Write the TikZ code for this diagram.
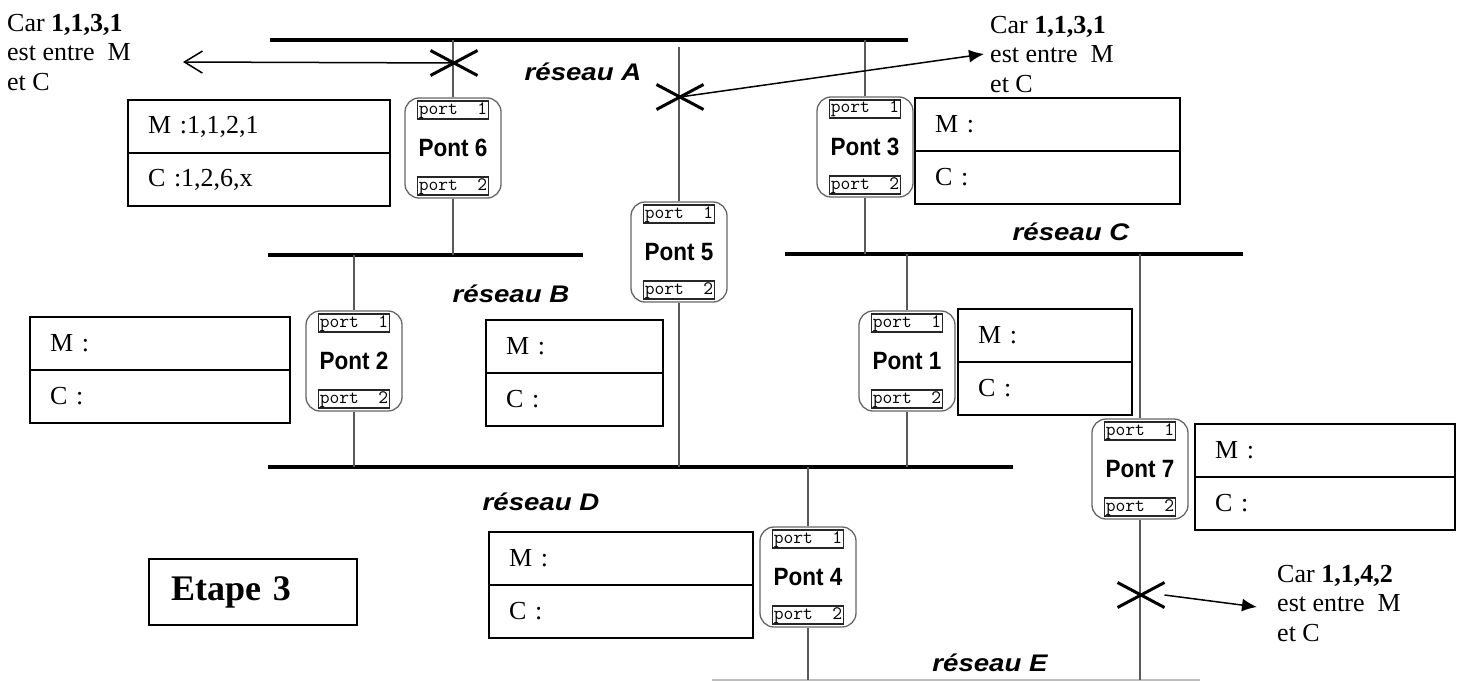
\documentclass[tikz,border=0pt]{standalone}
\usepackage{fontspec}
\setmainfont{Liberation Serif}
\newfontfamily\netfont[FakeStretch=1.15]{Liberation Sans}
\newfontfamily\pontfont[FakeStretch=0.9]{Liberation Sans}
\usetikzlibrary{positioning, arrows.meta, shapes.misc}

\tikzset{
  bus/.style={line width=4pt},
  drop/.style={line width=1.6pt, draw=black!65},
  pontbox/.style={draw=black!60, line width=1.3pt, rounded corners=14pt, fill=white, minimum width=96pt, minimum height=100pt},
  portbox/.style={draw=black!85, line width=1.3pt, fill=white, inner sep=1pt, text height=12pt, text depth=4pt, font=\ttfamily\fontsize{19}{19}\selectfont},
  pontname/.style={font=\pontfont\bfseries\fontsize{25}{25}\selectfont, inner sep=0pt},
  netname/.style={font=\netfont\bfseries\itshape\fontsize{24}{24}\selectfont, inner sep=0pt},
  rowbox/.style={draw, line width=1.4pt, anchor=north west, outer sep=0pt, text width=#1, inner xsep=20pt, inner ysep=0pt, minimum height=53pt, align=left, font=\fontsize{26}{26}\selectfont},
  note/.style={anchor=north west, align=left, inner sep=0pt, font=\fontsize{26}{29.5}\selectfont},
  xmark/.style={cross out, draw, line width=3pt, minimum width=44pt, minimum height=22pt, inner sep=0pt},
}

\begin{document}
\begin{tikzpicture}[x=1pt, y=-1pt]
\useasboundingbox (0,0) rectangle (1471,682);

% bus lines
\coordinate (aW) at (270,40);  \coordinate (aE) at (908,40);
\coordinate (bW) at (268,255); \coordinate (bE) at (583,255);
\coordinate (cW) at (785,254); \coordinate (cE) at (1243,254);
\coordinate (dW) at (268,467); \coordinate (dE) at (1013,467);
\coordinate (eW) at (712,680); \coordinate (eE) at (1200,680);
\coordinate (a5) at (679,47);
\draw[bus] (aW) -- (aE);
\draw[bus] (bW) -- (bE);
\draw[bus] (cW) -- (cE);
\draw[bus] (dW) -- (dE);
\draw[line width=2pt, draw=black!25] (eW) -- (eE);

\node[netname] (labA) at (583,72) {réseau A};
\node[netname] (labB) at (511,294) {réseau B};
\node[netname] (labC) at (1071,232) {réseau C};
\node[netname] (labD) at (541,502) {réseau D};
\node[netname] (labE) at (990,663) {réseau E};

% bridges
\foreach \n/\x/\y in {6/453/148, 3/865/147, 5/679/252, 2/354/361, 1/907/361, 7/1140/469, 4/808/577}{
  \node[pontbox] (p\n) at (\x,\y) {};
  \node[portbox, below=3pt of p\n.north] (p\n-up) {port\ \ 1};
  \node[portbox, above=3pt of p\n.south] (p\n-down) {port\ \ 2};
  \node[pontname] at (p\n) {Pont \n};
}

\draw[drop] (p6.north) -- (p6.north |- aW);
\draw[drop] (p6.south) -- (p6.south |- bW);
\draw[drop] (p3.north) -- (p3.north |- aW);
\draw[drop] (p3.south) -- (p3.south |- cW);
\draw[drop] (p5.north) -- (p5.north |- a5);
\draw[drop] (p5.south) -- (p5.south |- dW);
\draw[drop] (p2.north) -- (p2.north |- bW);
\draw[drop] (p2.south) -- (p2.south |- dW);
\draw[drop] (p1.north) -- (p1.north |- cW);
\draw[drop] (p1.south) -- (p1.south |- dW);
\draw[drop] (p7.north) -- (p7.north |- cW);
\draw[drop] (p7.south) -- (p7.south |- eW);
\draw[drop] (p4.north) -- (p4.north |- dW);
\draw[drop] (p4.south) -- (p4.south |- eW);

% tables M / C
\node[rowbox=222pt] (m6) at (128,100) {M :1,1,2,1};
\node[rowbox=222pt] (c6) at (m6.south west) {C :1,2,6,x};
\foreach \n/\x/\y/\w in {3/915/98/225, 2/30/317/220, 5/486/320/137, 1/958/309/134, 7/1195/424/220, 4/489/532/224}{
  \node[rowbox=\w pt] (m\n) at (\x,\y) {M :};
  \node[rowbox=\w pt] (c\n) at (m\n.south west) {C :};
}

% cuts and notes
\node[xmark] (x6) at (454,63) {};
\node[xmark] (x5) at (680,97) {};
\node[xmark] (x7) at (1141,595) {};
\node[note] (car6) at (7,14) {Car \textbf{1,1,3,1}\\est entre\ \ M\\et C};
\node[note] (car5) at (990,16) {Car \textbf{1,1,3,1}\\est entre\ \ M\\et C};
\node[note] (car7) at (1277,565) {Car \textbf{1,1,4,2}\\est entre\ \ M\\et C};
\coordinate (tip6) at (183,62);
\coordinate (tip5) at (984,54);
\coordinate (tip7) at (1257,607);
\draw[line width=1.5pt, -{Straight Barb[length=18pt,width=22pt]}] (x6.center) -- (tip6);
\draw[line width=1.5pt, -{Latex[length=15pt,width=13pt]}] (x5.center) -- (tip5);
\draw[line width=1.5pt, -{Latex[length=15pt,width=13pt]}] (x7.east) -- (tip7);

\node[draw, line width=1.4pt, minimum height=66pt, text width=164pt, inner xsep=22pt, align=left, font=\bfseries\fontsize{36}{36}\selectfont] (etape) at (253,592) {Etape 3};
\end{tikzpicture}
\end{document}
